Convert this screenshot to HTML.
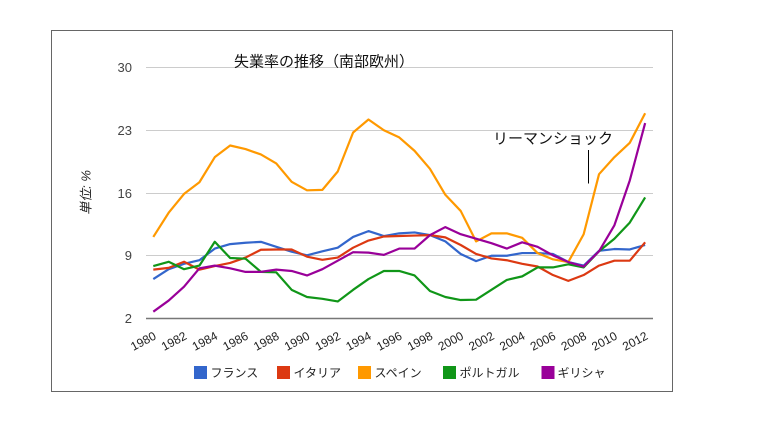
<!DOCTYPE html>
<html>
<head>
<meta charset="utf-8">
<style>
  html, body { margin:0; padding:0; background:#fff; }
  body { width:771px; height:436px; overflow:hidden; }
  svg { display:block; }
  text { font-family: "Liberation Sans", "Noto Sans CJK JP", sans-serif; }
</style>
</head>
<body>
<svg width="771" height="436" viewBox="0 0 771 436" xmlns="http://www.w3.org/2000/svg">
  <rect x="0" y="0" width="771" height="436" fill="#fff"/>
  <!-- frame -->
  <rect x="51.5" y="30.5" width="621" height="361" fill="none" stroke="#666" stroke-width="1"/>

  <!-- gridlines -->
  <g stroke="#cccccc" stroke-width="1">
    <line x1="146" y1="67.5" x2="653" y2="67.5"/>
    <line x1="146" y1="130.5" x2="653" y2="130.5"/>
    <line x1="146" y1="193.5" x2="653" y2="193.5"/>
    <line x1="146" y1="255.5" x2="653" y2="255.5"/>
  </g>
  <line x1="146" y1="318.5" x2="653" y2="318.5" stroke="#777" stroke-width="1.5"/>

  <!-- y tick labels -->
  <g font-size="13" fill="#444" text-anchor="end">
    <text x="132" y="72">30</text>
    <text x="132" y="135">23</text>
    <text x="132" y="198">16</text>
    <text x="132" y="260">9</text>
    <text x="132" y="323">2</text>
  </g>

  <!-- y axis title -->
  <text transform="translate(90.5,192.5) rotate(-90)" text-anchor="middle" font-size="13" font-style="italic" fill="#222">単位: %</text>

  <!-- title -->
  <text x="234" y="66.5" font-size="15" fill="#111">失業率の推移（南部欧州）</text>

  <!-- annotation -->
  <text x="493" y="143.5" font-size="15" fill="#111">リーマンショック</text>
  <line x1="588.5" y1="150" x2="588.5" y2="183.5" stroke="#000" stroke-width="1"/>

  <!-- series -->
  <g transform="translate(153.3,336.43) scale(15.37,-8.964)" fill="none" stroke-width="2.2" stroke-linejoin="round">
    <polyline vector-effect="non-scaling-stroke" stroke="#3366cc" points="0,6.4 1,7.5 2,8.1 3,8.5 4,9.8 5,10.3 6,10.45 7,10.55 8,10.0 9,9.45 10,9.05 11,9.5 12,9.9 13,11.1 14,11.75 15,11.2 16,11.5 17,11.6 18,11.3 19,10.6 20,9.2 21,8.4 22,9.0 23,9.0 24,9.3 25,9.3 26,9.2 27,8.3 28,7.9 29,9.55 30,9.75 31,9.7 32,10.2"/>
    <polyline vector-effect="non-scaling-stroke" stroke="#dc3912" points="0,7.45 1,7.65 2,8.33 3,7.45 4,7.85 5,8.2 6,8.8 7,9.67 8,9.7 9,9.7 10,8.9 11,8.55 12,8.8 13,9.9 14,10.7 15,11.15 16,11.2 17,11.25 18,11.3 19,11.05 20,10.2 21,9.2 22,8.7 23,8.5 24,8.1 25,7.8 26,6.85 27,6.2 28,6.85 29,7.9 30,8.45 31,8.45 32,10.5"/>
    <polyline vector-effect="non-scaling-stroke" stroke="#ff9900" points="0,11.1 1,13.8 2,15.9 3,17.2 4,20.0 5,21.3 6,20.9 7,20.3 8,19.3 9,17.25 10,16.3 11,16.35 12,18.4 13,22.75 14,24.2 15,23.0 16,22.2 17,20.7 18,18.7 19,15.8 20,14.0 21,10.6 22,11.5 23,11.5 24,11.0 25,9.3 26,8.6 27,8.3 28,11.4 29,18.1 30,20.0 31,21.6 32,24.9"/>
    <polyline vector-effect="non-scaling-stroke" stroke="#109618" points="0,7.85 1,8.33 2,7.5 3,7.9 4,10.56 5,8.75 6,8.67 7,7.2 8,7.15 9,5.2 10,4.4 11,4.2 12,3.9 13,5.2 14,6.4 15,7.3 16,7.3 17,6.8 18,5.07 19,4.4 20,4.06 21,4.1 22,5.2 23,6.3 24,6.7 25,7.7 26,7.7 27,8.05 28,7.7 29,9.5 30,10.9 31,12.7 32,15.5"/>
    <polyline vector-effect="non-scaling-stroke" stroke="#990099" points="0,2.76 1,4.0 2,5.55 3,7.6 4,7.9 5,7.6 6,7.2 7,7.2 8,7.45 9,7.3 10,6.8 11,7.5 12,8.45 13,9.4 14,9.35 15,9.1 16,9.8 17,9.8 18,11.3 19,12.2 20,11.4 21,10.9 22,10.4 23,9.8 24,10.5 25,10.0 26,9.05 27,8.3 28,7.8 29,9.5 30,12.4 31,17.4 32,23.8"/>
  </g>

  <!-- x labels -->
  <g font-size="12" fill="#222" text-anchor="end">
    <text transform="translate(157,338.5) rotate(-28)">1980</text>
    <text transform="translate(187.7,338.5) rotate(-28)">1982</text>
    <text transform="translate(218.5,338.5) rotate(-28)">1984</text>
    <text transform="translate(249.2,338.5) rotate(-28)">1986</text>
    <text transform="translate(280,338.5) rotate(-28)">1988</text>
    <text transform="translate(310.7,338.5) rotate(-28)">1990</text>
    <text transform="translate(341.4,338.5) rotate(-28)">1992</text>
    <text transform="translate(372.2,338.5) rotate(-28)">1994</text>
    <text transform="translate(402.9,338.5) rotate(-28)">1996</text>
    <text transform="translate(433.7,338.5) rotate(-28)">1998</text>
    <text transform="translate(464.4,338.5) rotate(-28)">2000</text>
    <text transform="translate(495.1,338.5) rotate(-28)">2002</text>
    <text transform="translate(525.9,338.5) rotate(-28)">2004</text>
    <text transform="translate(556.6,338.5) rotate(-28)">2006</text>
    <text transform="translate(587.4,338.5) rotate(-28)">2008</text>
    <text transform="translate(618.1,338.5) rotate(-28)">2010</text>
    <text transform="translate(648.8,338.5) rotate(-28)">2012</text>
  </g>

  <!-- legend -->
  <rect x="194" y="366" width="13" height="13" fill="#3366cc"/>
  <rect x="277" y="366" width="13" height="13" fill="#dc3912"/>
  <rect x="358" y="366" width="13" height="13" fill="#ff9900"/>
  <rect x="443" y="366" width="13" height="13" fill="#109618"/>
  <rect x="541.5" y="366" width="13" height="13" fill="#990099"/>
  <g font-size="12" fill="#222">
    <text x="210.5" y="376.8">フランス</text>
    <text x="293.5" y="376.8">イタリア</text>
    <text x="374.5" y="376.8">スペイン</text>
    <text x="459.5" y="376.8">ポルトガル</text>
    <text x="557.5" y="376.8">ギリシャ</text>
  </g>
</svg>
</body>
</html>
